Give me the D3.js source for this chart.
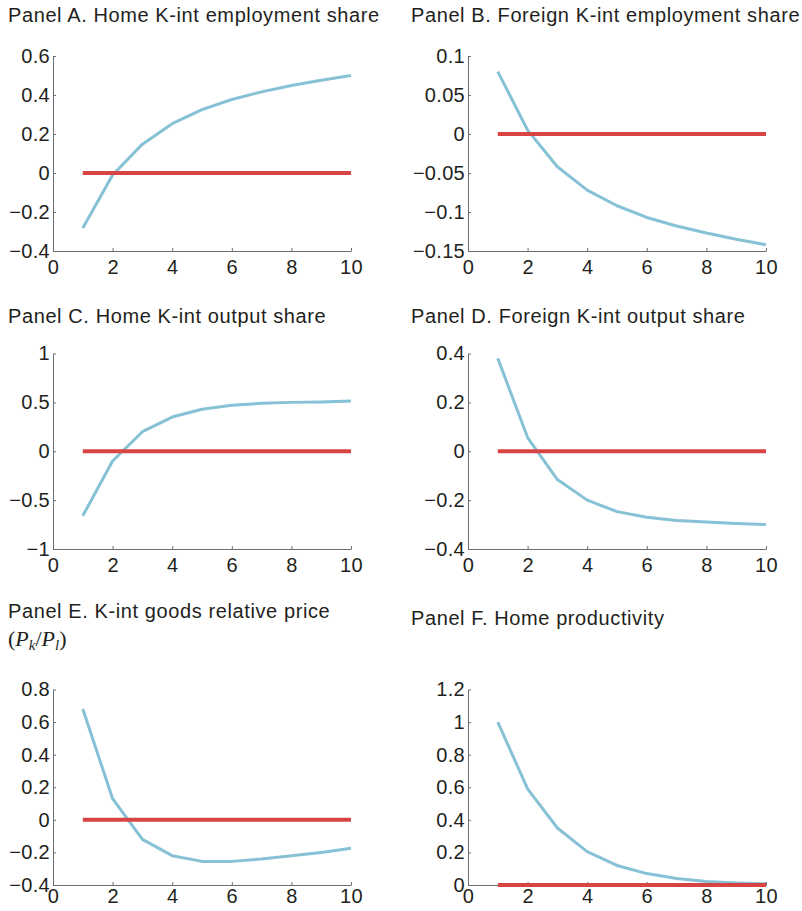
<!DOCTYPE html>
<html>
<head>
<meta charset="utf-8">
<script src="https://cdn.jsdelivr.net/npm/d3@7"></script>
<style>
  html, body { margin: 0; padding: 0; background: #fff; }
  svg text { fill: #231f20; }
  .sans { font-family: "Liberation Sans", Arial, Helvetica, sans-serif; }
  .serif { font-family: "Liberation Serif", "Times New Roman", serif; }
</style>
</head>
<body>
<svg id="chart" width="802" height="911"></svg>
<script>
// Impulse responses over periods 1..10
const periods = [1, 2, 3, 4, 5, 6, 7, 8, 9, 10];
const xTicks = [0, 2, 4, 6, 8, 10];

const homeEmployment    = [-0.282, -0.01, 0.148, 0.253, 0.325, 0.377, 0.416, 0.449, 0.476, 0.500];
const foreignEmployment = [0.080, 0.005, -0.042, -0.072, -0.092, -0.107, -0.118, -0.127, -0.135, -0.142];
const homeOutput        = [-0.66, -0.10, 0.20, 0.35, 0.43, 0.47, 0.49, 0.50, 0.505, 0.515];
const foreignOutput     = [0.38, 0.056, -0.116, -0.200, -0.247, -0.270, -0.283, -0.290, -0.296, -0.300];
const relativePrice     = [0.68, 0.13, -0.12, -0.22, -0.255, -0.255, -0.24, -0.22, -0.20, -0.175];
const homeProductivity  = [1.00, 0.59, 0.35, 0.205, 0.12, 0.07, 0.04, 0.022, 0.013, 0.008];
const baseline          = [0, 0, 0, 0, 0, 0, 0, 0, 0, 0];

const titles = [
  "Panel A. Home K-int employment share",
  "Panel B. Foreign K-int employment share",
  "Panel C. Home K-int output share",
  "Panel D. Foreign K-int output share",
  "Panel E. K-int goods relative price",
  "Panel F. Home productivity"
];
const yTicksA = [-0.4, -0.2, 0, 0.2, 0.4, 0.6];
const yTicksB = [-0.15, -0.1, -0.05, 0, 0.05, 0.1];
const yTicksC = [-1, -0.5, 0, 0.5, 1];
const yTicksD = [-0.4, -0.2, 0, 0.2, 0.4];
const yTicksE = [-0.4, -0.2, 0, 0.2, 0.4, 0.6, 0.8];
const yTicksF = [0, 0.2, 0.4, 0.6, 0.8, 1, 1.2];

const panels = [
  { title: titles[0], series: homeEmployment,    yTicks: yTicksA, col: 0, row: 0, titleY: 22 },
  { title: titles[1], series: foreignEmployment, yTicks: yTicksB, col: 1, row: 0, titleY: 22 },
  { title: titles[2], series: homeOutput,        yTicks: yTicksC, col: 0, row: 1, titleY: 323 },
  { title: titles[3], series: foreignOutput,     yTicks: yTicksD, col: 1, row: 1, titleY: 323 },
  { title: titles[4], series: relativePrice,     yTicks: yTicksE, col: 0, row: 2, titleY: 618, sub: true },
  { title: titles[5], series: homeProductivity,  yTicks: yTicksF, col: 1, row: 2, titleY: 625 }
];

// panel geometry
const colX = [{ left: 53, right: 351, title: 8 }, { left: 468, right: 766, title: 411 }];
const rowY = [
  { top: 56, bottom: 251, labelGap: 9 },
  { top: 353.5, bottom: 549, labelGap: 9 },
  { top: 689.5, bottom: 885, labelGap: 4 }
];

const blue = "#86c1d6";
const red = "#d84343";
const axisColor = "#6d6e70";

const svg = d3.select("#chart");
const fmt = v => d3.format("")(v).replace("-", "\u2212");

panels.forEach(p => {
  const c = colX[p.col], r = rowY[p.row];
  const x = d3.scaleLinear().domain([0, 10]).range([c.left, c.right]);
  const y = d3.scaleLinear().domain(d3.extent(p.yTicks)).range([r.bottom, r.top]);
  const g = svg.append("g");

  // title
  g.append("text").attr("class", "sans")
    .attr("x", c.title).attr("y", p.titleY)
    .attr("font-size", 20).attr("letter-spacing", "0.6px")
    .text(p.title);
  if (p.sub) {
    const s = g.append("text").attr("class", "serif")
      .attr("x", c.title).attr("y", p.titleY + 28)
      .attr("font-size", 22);
    s.append("tspan").text("(");
    s.append("tspan").attr("font-style", "italic").text("P");
    s.append("tspan").attr("font-style", "italic").attr("font-size", 15).attr("dy", 4).text("k");
    s.append("tspan").attr("dy", -4).text("/");
    s.append("tspan").attr("font-style", "italic").text("P");
    s.append("tspan").attr("font-style", "italic").attr("font-size", 15).attr("dy", 4).text("l");
    s.append("tspan").attr("dy", -4).text(")");
  }

  // axes with inward ticks
  const xAxis = d3.axisBottom(x).tickValues(xTicks).tickSizeInner(-3).tickSizeOuter(0).tickPadding(r.labelGap).tickFormat(fmt);
  const yAxis = d3.axisLeft(y).tickValues(p.yTicks).tickSizeInner(-3).tickSizeOuter(0).tickPadding(3).tickFormat(fmt);

  const gx = g.append("g").attr("transform", `translate(0,${r.bottom})`).call(xAxis);
  const gy = g.append("g").attr("transform", `translate(${c.left},0)`).call(yAxis);
  [gx, gy].forEach(a => {
    a.attr("font-family", null).attr("font-size", null);
    a.select(".domain").attr("stroke", axisColor).attr("stroke-width", 1);
    a.selectAll(".tick line").attr("stroke", axisColor).attr("stroke-width", 1);
    a.selectAll(".tick text")
      .attr("class", "sans")
      .attr("font-size", 20).attr("letter-spacing", "0.3px")
      .attr("fill", "#231f20");
  });
  gx.selectAll(".tick text").attr("dy", "0.72em");

  const line = d3.line().x((d, i) => x(periods[i])).y(d => y(d));

  g.append("path").datum(p.series)
    .attr("fill", "none").attr("stroke", blue).attr("stroke-width", 3)
    .attr("stroke-linejoin", "round")
    .attr("d", line);
  g.append("path").datum(baseline)
    .attr("fill", "none").attr("stroke", red).attr("stroke-width", 4)
    .attr("d", line);
});
</script>
</body>
</html>
